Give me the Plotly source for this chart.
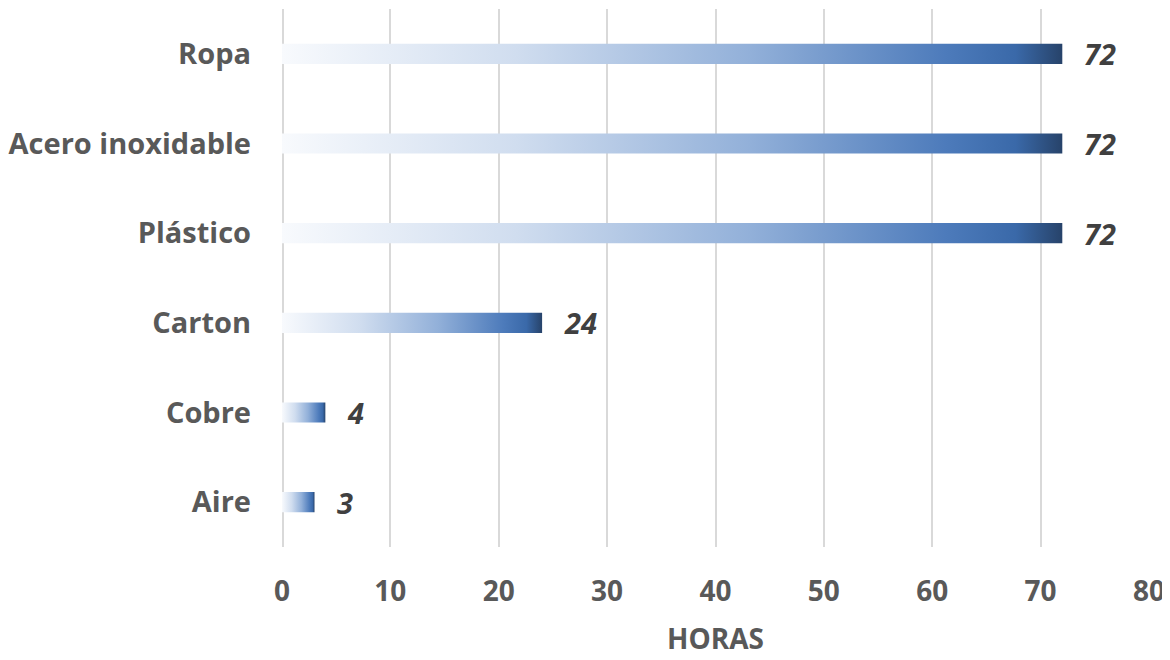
import plotly.graph_objects as go

categories = ["Aire", "Cobre", "Carton", "Plástico", "Acero inoxidable", "Ropa"]
horas = [3, 4, 24, 72, 72, 72]
x_ticks = [0, 10, 20, 30, 40, 50, 60, 70, 80]

half = 0.112
gradient = [[0.0, "#f8fafd"], [0.3, "#d0ddef"], [0.6, "#92b0d9"],
            [0.85, "#4d7bbb"], [0.94, "#3a69a9"], [1.0, "#27436a"]]

fig = go.Figure()
for i, (c, v) in enumerate(zip(categories, horas)):
    fig.add_trace(go.Scatter(
        x=[0, v, v, 0, 0],
        y=[i - half, i - half, i + half, i + half, i - half],
        mode="lines", line=dict(width=0), fill="toself",
        fillgradient=dict(type="horizontal", colorscale=gradient),
        name=c, hoverinfo="skip", showlegend=False,
    ))
    fig.add_annotation(x=v, y=i, text=str(v), showarrow=False,
                       xanchor="left", xshift=20,
                       font=dict(family="Open Sans", size=29, color="#404040",
                                 style="italic", weight="bold"))

fig.update_layout(
    width=1162, height=652,
    margin=dict(l=272, r=21, t=1, b=113),
    paper_bgcolor="white", plot_bgcolor="white",
    font=dict(family="Open Sans", color="#595959"),
    xaxis=dict(range=[0, 80], tickvals=x_ticks, showgrid=True,
               gridcolor="#d9d9d9", gridwidth=2, zeroline=False,
               showline=False, ticks="", ticklabelstandoff=25,
               tickfont=dict(size=28, weight="bold", color="#595959"),
               title=dict(text="HORAS", standoff=21,
                          font=dict(size=28, weight="bold", color="#595959"))),
    yaxis=dict(range=[-0.5, 5.5], tickvals=list(range(len(categories))),
               ticktext=categories, showgrid=False, zeroline=False,
               showline=False, ticks="", ticklabelstandoff=30,
               tickfont=dict(size=29, weight="bold", color="#595959")),
)
fig.add_vline(x=0, line=dict(color="#d9d9d9", width=4), layer="below")

fig.write_html("out.html")
